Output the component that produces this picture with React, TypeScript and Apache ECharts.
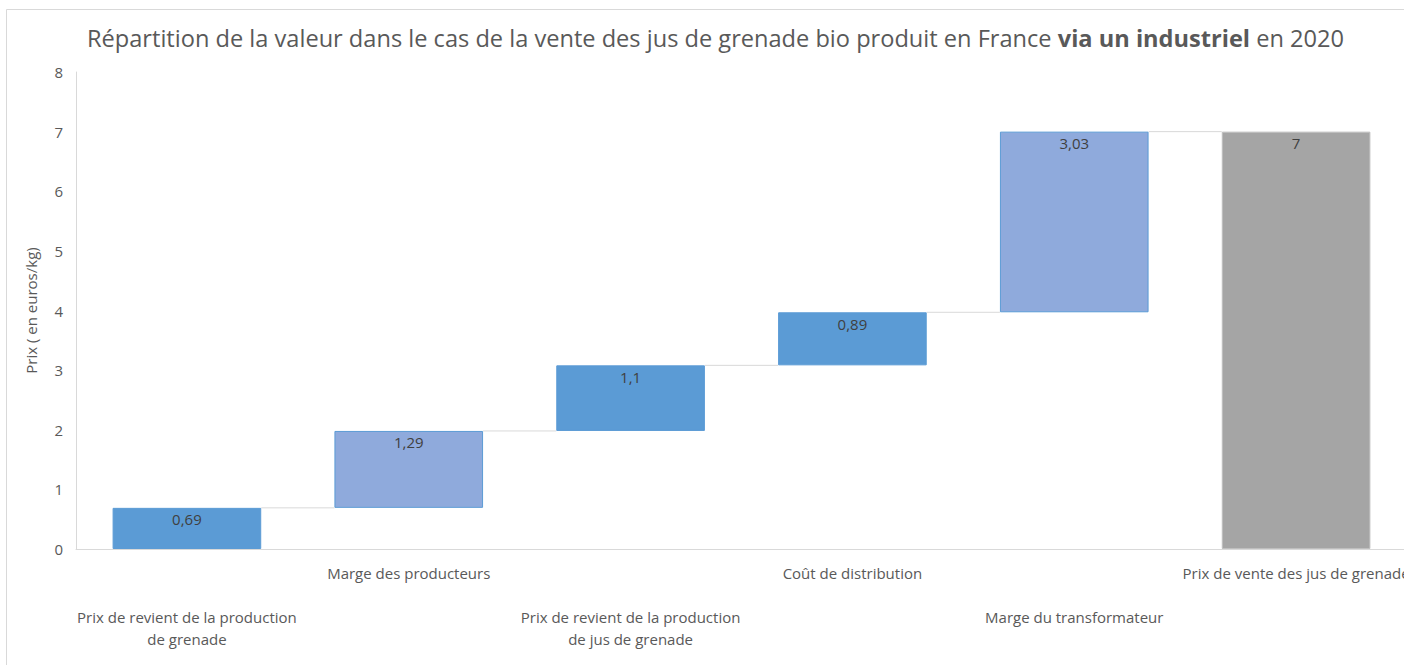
import React, { useEffect, useRef } from "react";
import * as echarts from "echarts";

const categories = [
  "Prix de revient de la production\nde grenade",
  "Marge des producteurs",
  "Prix de revient de la production\nde jus de grenade",
  "Coût de distribution",
  "Marge du transformateur",
  "Prix de vente des jus de grenade",
];
const values = [0.69, 1.29, 1.1, 0.89, 3.03, 7];
const isTotal = [false, false, false, false, false, true];
const barColors = ["#5B9BD5", "#8FAADC", "#5B9BD5", "#5B9BD5", "#8FAADC", "#A5A5A5"];
const yTicks = { min: 0, max: 8, interval: 1 };
const titleNormal1 = "Répartition de la valeur dans le cas de la vente des jus de grenade bio produit en France ";
const titleBold = "via un industriel";
const titleNormal2 = " en 2020";
const yName = "Prix ( en euros/kg)";

export default function App() {
  const ref = useRef<HTMLDivElement>(null);
  useEffect(() => {
    if (!ref.current) return;
    const chart = echarts.init(ref.current, null, { renderer: "svg" });
    const bases: number[] = [];
    const tops: number[] = [];
    let run = 0;
    values.forEach((v, i) => {
      if (isTotal[i]) {
        bases.push(0);
        tops.push(v);
      } else {
        bases.push(run);
        run += v;
        tops.push(run);
      }
    });
    const connectors = tops.slice(0, -1).map((t, i) => [i, t]);
    const font = "Open Sans";
    chart.setOption({
      animation: false,
      textStyle: { fontFamily: font },
      title: {
        left: 82,
        top: 21,
        text: `{n|${titleNormal1}}{b|${titleBold}}{n|${titleNormal2}}`,
        textStyle: {
          fontWeight: "normal",
          rich: {
            n: { fontFamily: font, fontSize: 23.6, color: "#595959", fontWeight: "normal" },
            b: { fontFamily: font, fontSize: 23.6, color: "#595959", fontWeight: "bold" },
          },
        },
      },
      graphic: [
        {
          type: "rect",
          shape: { x: 6.5, y: 9.5, width: 1600, height: 1000 },
          style: { fill: "none", stroke: "#d9d9d9", lineWidth: 1 },
          silent: true,
          z: -10,
        },
      ],
      grid: {
        left: 76,
        right: -3,
        top: 72,
        bottom: 665 - 549,
        containLabel: false,
        outerBoundsMode: "none",
      },
      xAxis: {
        type: "category",
        data: categories,
        axisLine: { lineStyle: { color: "#d9d9d9" } },
        axisTick: { show: false },
        axisLabel: {
          interval: 0,
          color: "#595959",
          fontSize: 15,
          fontFamily: font,
          lineHeight: 22,
          margin: 13,
          hideOverlap: false,
          formatter: (v: string, i: number) => (i % 2 === 0 ? "\n\n" + v : v),
        },
      },
      yAxis: {
        type: "value",
        min: yTicks.min,
        max: yTicks.max,
        interval: yTicks.interval,
        name: yName,
        nameLocation: "middle",
        nameGap: 38,
        nameTextStyle: { color: "#595959", fontSize: 15, fontFamily: font },
        axisLine: { show: true, lineStyle: { color: "#d9d9d9" } },
        axisTick: { show: false },
        splitLine: { show: false },
        axisLabel: { color: "#595959", fontSize: 15, fontFamily: font, margin: 13 },
      },
      series: [
        {
          type: "bar",
          stack: "w",
          data: bases,
          itemStyle: { color: "transparent" },
          barCategoryGap: "33%",
          silent: true,
        },
        {
          type: "bar",
          stack: "w",
          barCategoryGap: "33%",
          data: values.map((v, i) => ({
            value: v,
            itemStyle: {
              color: barColors[i],
              borderColor: isTotal[i] ? "#BFBFBF" : "#5B9BD5",
              borderWidth: 1,
            },
          })),
          label: {
            show: true,
            position: "insideTop",
            distance: 4,
            color: "#404040",
            fontSize: 15,
            fontFamily: font,
            formatter: (p: any) => String(p.value).replace(".", ","),
          },
        },
        {
          type: "custom",
          data: connectors,
          z: 1,
          renderItem: (params: any, api: any) => {
            const x = api.value(0);
            const y = api.value(1);
            const a = api.coord([x, y]);
            const b = api.coord([x + 1, y]);
            const half = api.size([1, 0])[0] * 0.335;
            return {
              type: "line",
              shape: { x1: a[0] + half, y1: a[1], x2: b[0] - half, y2: b[1] },
              style: { stroke: "#d9d9d9", lineWidth: 1 },
            };
          },
        },
      ],
    });
    return () => chart.dispose();
  }, []);
  return (
    <div
      ref={ref}
      style={{ position: "fixed", left: 0, top: 0, width: 1404, height: 665, background: "#fff" }}
    />
  );
}
